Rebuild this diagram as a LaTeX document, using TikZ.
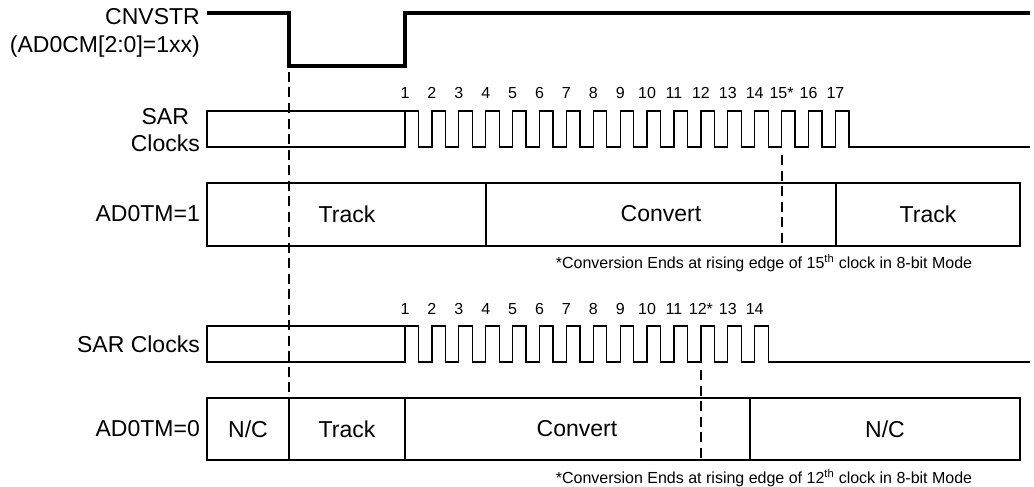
\documentclass[tikz,border=0pt]{standalone}
\usepackage{fontspec}
\setmainfont{Liberation Sans}
\usepackage{tikz}

\begin{document}
\begin{tikzpicture}[x=1pt, y=-1pt,
  sig/.style={line width=3.5pt},
  wave/.style={line width=1.3pt},
  cut/.style={line width=2.6pt, dash pattern=on 10pt off 5.5pt},
  lbl/.style={font=\fontsize{23}{27}\selectfont, inner sep=0pt},
  num/.style={font=\fontsize{16}{18}\selectfont, inner sep=0pt}]

\useasboundingbox (0,0) rectangle (1034,487);

% Clock timing: first rising edge, period, half period
\def\tstart{405}
\def\period{26.9}
\def\halfp{13.45}

% CNVSTR waveform
\node[lbl, anchor=base east] (cnv) at (200,25) {CNVSTR};
\node[lbl, anchor=base east] (cnvmode) at (200,53) {(AD0CM[2:0]=1xx)};
\draw[sig] (207,13) -- (289,13) -- (289,66) -- (405,66) -- (405,13) -- (1030,13);

% Upper SAR clocks (17 pulses)
\node[lbl, anchor=east, align=center] (sarA) at (200,130) {SAR\\Clocks};
\draw[wave] (207,111) rectangle (405,147);
\draw[wave] (\tstart,147) \foreach \i in {0,...,16} {
  -- ++(0,-36) -- ++(\halfp,0) -- ++(0,36) -- ++(\halfp,0)
} -- (1030,147);
\foreach \i in {0,...,16} {
    \pgfmathsetmacro{\x}{\tstart + \i*\period}
    \pgfmathtruncatemacro{\n}{\i+1}
    \ifnum\n=15
        \node[num, anchor=base] (clkA\n) at (\x,99) {\n*};
    \else
        \node[num, anchor=base] (clkA\n) at (\x,99) {\n};
    \fi
}

% AD0TM=1 phases
\node[lbl, anchor=east] (tmA) at (200,214) {AD0TM=1};
\draw[wave] (207,183) rectangle (1020,246);
\draw[wave] (486,183) -- (486,246);
\draw[wave] (836,183) -- (836,246);
\node[lbl] (trackA) at (347,214) {Track};
\node[lbl] (convA) at (661,214) {Convert};
\node[lbl] (trackB) at (928,214) {Track};
\draw[cut] (782,155) -- (782,246);
\node[num] (noteA) at (764,263) {*Conversion Ends at rising edge of 15\textsuperscript{th} clock in 8-bit Mode};

% Lower SAR clocks (14 pulses)
\node[lbl, anchor=east] (sarB) at (200,344) {SAR Clocks};
\draw[wave] (207,326) rectangle (405,362);
\draw[wave] (\tstart,362) \foreach \i in {0,...,13} {
  -- ++(0,-36) -- ++(\halfp,0) -- ++(0,36) -- ++(\halfp,0)
} -- (1030,362);
\foreach \i in {0,...,13} {
    \pgfmathsetmacro{\x}{\tstart + \i*\period}
    \pgfmathtruncatemacro{\n}{\i+1}
    \ifnum\n=12
        \node[num, anchor=base] (clkB\n) at (\x,314) {\n*};
    \else
        \node[num, anchor=base] (clkB\n) at (\x,314) {\n};
    \fi
}

% AD0TM=0 phases
\node[lbl, anchor=east] (tmB) at (200,429) {AD0TM=0};
\draw[wave] (207,398) rectangle (1020,460);
\draw[wave] (289,398) -- (289,460);
\draw[wave] (405,398) -- (405,460);
\draw[wave] (750,398) -- (750,460);
\node[lbl] (ncA) at (248,429) {N/C};
\node[lbl] (trackC) at (347,429) {Track};
\node[lbl] (convB) at (577,429) {Convert};
\node[lbl] (ncB) at (885,429) {N/C};
\draw[cut] (701,370) -- (701,460);
\node[num] (noteB) at (764,478) {*Conversion Ends at rising edge of 12\textsuperscript{th} clock in 8-bit Mode};

% CNVSTR falling edge marker
\draw[cut] (289,72) -- (289,398);

\end{tikzpicture}
\end{document}
